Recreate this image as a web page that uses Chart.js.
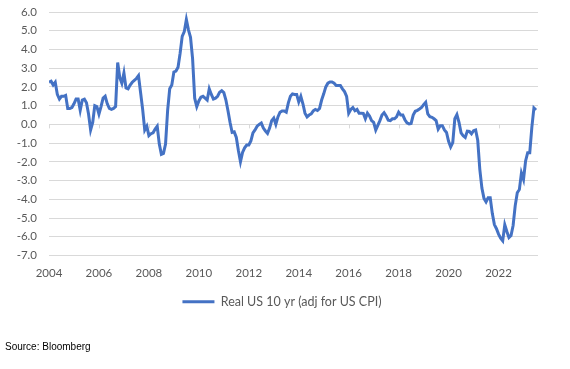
<!DOCTYPE html>
<html><head><meta charset="utf-8">
<script src="https://cdn.jsdelivr.net/npm/chart.js@4"></script>
<style>
html,body{margin:0;padding:0;background:#fff;}
#wrap{position:relative;width:570px;height:369px;overflow:hidden;}
#source{position:absolute;left:5px;top:341px;font:10px "Liberation Sans",Arial,sans-serif;color:#000;white-space:nowrap;}
</style></head><body>
<div id="wrap"><canvas id="c" width="570" height="369"></canvas><div id="source">Source: Bloomberg</div></div>
<script>
const startYear = 2004;
const seriesLabel = 'Real US 10 yr (adj for US CPI)';
const xTickYears = [2004, 2006, 2008, 2010, 2012, 2014, 2016, 2018, 2020, 2022];
const yMin = -7, yMax = 6;
const realYield = [
  // 2004
  2.25, 2.3, 2.1, 2.25, 1.6, 1.35, 1.5, 1.5, 1.55, 0.85, 0.85, 0.9,
  // 2005
  1.1, 1.35, 1.35, 0.75, 1.3, 1.35, 1.15, 0.55, -0.3, 0.1, 1.0, 0.95,
  // 2006
  0.55, 0.95, 1.4, 1.5, 1.1, 0.85, 0.8, 0.85, 0.95, 3.3, 2.5, 2.2,
  // 2007
  2.75, 1.95, 1.9, 2.1, 2.25, 2.35, 2.45, 2.6, 1.7, 0.8, -0.3, -0.1,
  // 2008
  -0.6, -0.5, -0.45, -0.25, -0.1, -1.05, -1.6, -1.55, -1.05, 0.75, 1.9, 2.1,
  // 2009
  2.8, 2.85, 3.05, 3.8, 4.7, 4.95, 5.6, 5.05, 4.65, 3.5, 1.4, 0.95,
  // 2010
  1.25, 1.45, 1.5, 1.4, 1.3, 1.9, 1.6, 1.35, 1.4, 1.5, 1.72, 1.8,
  // 2011
  1.7, 1.3, 0.73, 0.1, -0.43, -0.4, -0.7, -1.4, -2.0, -1.5, -1.25, -1.1,
  // 2012
  -1.1, -0.88, -0.45, -0.3, -0.1, 0.0, 0.07, -0.2, -0.35, -0.48, -0.2, 0.2,
  // 2013
  0.34, 0.0, 0.4, 0.65, 0.72, 0.72, 0.65, 1.15, 1.5, 1.63, 1.6, 1.6,
  // 2014
  1.2, 1.5, 1.1, 0.6, 0.4, 0.5, 0.56, 0.72, 0.8, 0.74, 0.85, 1.3,
  // 2015
  1.63, 2.0, 2.2, 2.26, 2.26, 2.2, 2.08, 2.08, 2.08, 1.9, 1.75, 1.5,
  // 2016
  0.6, 0.8, 0.9, 0.73, 0.8, 0.6, 0.6, 0.59, 0.3, 0.6, 0.45, 0.2,
  // 2017
  0.11, -0.3, -0.05, 0.2, 0.5, 0.62, 0.45, 0.22, 0.2, 0.3, 0.3, 0.4,
  // 2018
  0.65, 0.5, 0.5, 0.25, 0.08, 0.03, 0.05, 0.5, 0.7, 0.75, 0.82, 0.9,
  // 2019
  1.05, 1.18, 0.56, 0.41, 0.38, 0.3, 0.2, -0.25, -0.07, -0.07, -0.3, -0.43,
  // 2020
  -0.9, -1.2, -0.97, 0.3, 0.52, 0.11, -0.45, -0.61, -0.7, -0.36, -0.38, -0.5,
  // 2021
  -0.34, -0.3, -0.85, -2.4, -3.4, -3.95, -4.14, -3.92, -3.92, -4.75, -5.35, -5.57,
  // 2022
  -5.86, -6.08, -6.22, -5.36, -5.72, -6.04, -5.93, -5.4, -4.35, -3.65, -3.48, -2.6,
  // 2023
  -2.94, -1.95, -1.51, -1.51, -0.16, 0.88, 0.77
];
const monthDates = realYield.map((_, i) => startYear + i / 12);
const points = realYield.map((v, i) => ({x: monthDates[i], y: v}));

const lineColor = '#4472C4';
const gridColor = '#d9d9d9';
const textColor = '#595959';
const fontFamily = 'Lato, "Open Sans", sans-serif';

const zeroAxisTicks = {
  id: 'zeroAxisTicks',
  beforeDatasetsDraw(chart) {
    const {ctx, scales: {x, y}} = chart;
    const y0 = y.getPixelForValue(0);
    ctx.save();
    ctx.strokeStyle = gridColor;
    ctx.lineWidth = 1;
    ctx.beginPath();
    xTickYears.forEach(yr => {
      const px = Math.round(x.getPixelForValue(yr)) + 0.5;
      ctx.moveTo(px, y0);
      ctx.lineTo(px, y0 + 4);
    });
    ctx.stroke();
    ctx.restore();
  }
};

new Chart(document.getElementById('c'), {
  type: 'line',
  data: {
    datasets: [{
      label: seriesLabel,
      data: points,
      borderColor: lineColor,
      backgroundColor: lineColor,
      borderWidth: 3,
      pointRadius: 0,
      tension: 0,
      fill: false
    }]
  },
  options: {
    responsive: false,
    animation: false,
    layout: {padding: {left: 0, right: 6, top: 12, bottom: 51}},
    plugins: {
      legend: {
        position: 'bottom',
        labels: {
          usePointStyle: true,
          pointStyle: 'line',
          pointStyleWidth: 32,
          boxHeight: 12,
          padding: 10,
          color: textColor,
          font: {family: fontFamily, size: 12.5}
        }
      },
      tooltip: {enabled: false}
    },
    scales: {
      x: {
        type: 'linear',
        min: startYear,
        max: 2023.58,
        afterBuildTicks: s => { s.ticks = xTickYears.map(v => ({value: v})); },
        afterFit: s => { s.height = 30; s.paddingLeft = 0; s.paddingRight = 0; },
        grid: {display: false, drawTicks: false},
        border: {display: false},
        ticks: {
          color: textColor,
          font: {family: fontFamily, size: 11.5},
          padding: 11,
          maxRotation: 0,
          autoSkip: false,
          callback: v => String(v)
        }
      },
      y: {
        min: yMin,
        max: yMax,
        afterFit: s => { s.width = 49; s.paddingTop = 0; s.paddingBottom = 0; },
        grid: {color: gridColor, lineWidth: 1, drawTicks: false},
        border: {display: false},
        ticks: {
          stepSize: 1,
          color: textColor,
          font: {family: fontFamily, size: 11.5},
          padding: 12,
          callback: v => Number(v).toFixed(1)
        }
      },
      yRightSpacer: {
        position: 'right',
        min: yMin,
        max: yMax,
        afterFit: s => { s.width = 26; s.paddingTop = 0; s.paddingBottom = 0; },
        grid: {display: false, drawTicks: false},
        border: {display: false},
        ticks: {display: false}
      }
    }
  },
  plugins: [zeroAxisTicks]
});
</script>
</body></html>
